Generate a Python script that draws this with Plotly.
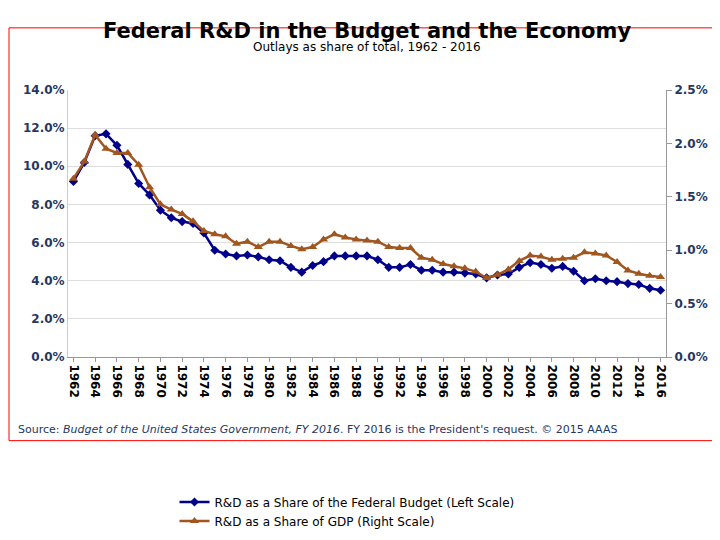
import plotly.graph_objects as go

years = list(range(1962, 2017))
budget_share = [9.2, 10.2, 11.6, 11.7, 11.1, 10.1, 9.1, 8.5, 7.7, 7.3, 7.1, 7.0, 6.5, 5.6,
                5.4, 5.3, 5.35, 5.25, 5.1, 5.05, 4.7, 4.45, 4.8, 5.0, 5.3, 5.3, 5.3, 5.3,
                5.1, 4.7, 4.7, 4.85, 4.55, 4.55, 4.45, 4.45, 4.4, 4.35, 4.15, 4.3, 4.35,
                4.7, 4.95, 4.85, 4.65, 4.75, 4.5, 4.0, 4.1, 4.0, 3.95, 3.85, 3.8, 3.6, 3.5]
gdp_share = [1.67, 1.83, 2.08, 1.95, 1.91, 1.91, 1.80, 1.59, 1.43, 1.38, 1.34, 1.27, 1.18,
             1.15, 1.13, 1.06, 1.08, 1.03, 1.08, 1.08, 1.04, 1.01, 1.03, 1.10, 1.15, 1.12,
             1.10, 1.09, 1.08, 1.03, 1.02, 1.02, 0.93, 0.91, 0.87, 0.85, 0.83, 0.80, 0.74,
             0.77, 0.82, 0.90, 0.95, 0.94, 0.91, 0.92, 0.93, 0.98, 0.97, 0.95, 0.89, 0.81,
             0.78, 0.76, 0.75]
tick_years = list(range(1962, 2017, 2))

font = "DejaVu Sans"
# plot area in pixels: 598 wide, 348 tall
pw, ph = 598, 348
fig = go.Figure()
fig.add_trace(go.Scatter(
    x=years, y=budget_share, name="R&D as a Share of the Federal Budget (Left Scale)",
    mode="lines+markers", line=dict(color="#00008B", width=2.5),
    marker=dict(symbol="diamond", size=7, color="#00008B")))
fig.add_trace(go.Scatter(
    x=years, y=gdp_share, name="R&D as a Share of GDP (Right Scale)", yaxis="y2",
    mode="lines+markers", line=dict(color="#A0561E", width=2.5),
    marker=dict(symbol="triangle-up", size=8, color="#A0561E")))

fig.update_layout(
    width=720, height=540, paper_bgcolor="white", plot_bgcolor="white",
    margin=dict(l=60, r=62, t=82, b=110),
    font=dict(family=font, color="#1F3864", size=12),
    xaxis=dict(range=[1961.5, 2016.5], tickvals=tick_years, tickangle=90,
               tickfont=dict(size=12, color="black", family=font, weight="bold"), showgrid=False,
               showline=True, linecolor="#999", ticks="outside", ticklen=4, tickcolor="#999"),
    yaxis=dict(range=[0, 14], dtick=2, tickformat=".1f", ticksuffix="%",
               gridcolor="#DDDDDD", tickfont=dict(size=12, color="#1F3864", weight="bold"),
               showline=True, linecolor="#CCC", zeroline=False),
    yaxis2=dict(range=[0, 2.5], dtick=0.5, tickformat=".1f", ticksuffix="%",
                overlaying="y", side="right", showgrid=False,
                tickfont=dict(size=12, color="#1F3864", weight="bold"),
                showline=True, linecolor="#999", ticks="outside", tickcolor="#999", zeroline=False),
    legend=dict(orientation="h", x=0.5, xanchor="center", y=-170 / ph, yanchor="top",
                font=dict(size=12, color="black"), entrywidth=340, entrywidthmode="pixels",
                itemwidth=30, tracegroupgap=0),
    shapes=[dict(type="rect", xref="paper", yref="paper", x0=-59 / pw, x1=1 + 61 / pw,
                 y0=-109 / ph, y1=1 + 81 / ph, line=dict(color="red", width=1))],
    annotations=[
        dict(text="<b>Federal R&D in the Budget and the Economy</b>", xref="paper", yref="paper",
             x=0.5, y=1 + 58 / ph, yanchor="bottom", showarrow=False,
             font=dict(size=21, color="black")),
        dict(text="Outlays as share of total, 1962 - 2016", xref="paper", yref="paper",
             x=0.5, y=1 + 44 / ph, yanchor="bottom", showarrow=False,
             font=dict(size=12, color="black")),
        dict(text="Source: <i>Budget of the United States Government, FY 2016</i>. "
                  "FY 2016 is the President's request. © 2015 AAAS",
             xref="paper", yref="paper", x=-52 / pw, y=-106 / ph, xanchor="left",
             yanchor="bottom", showarrow=False, font=dict(size=11, color="#1F3864"))],
)
fig.write_html("out.html")
